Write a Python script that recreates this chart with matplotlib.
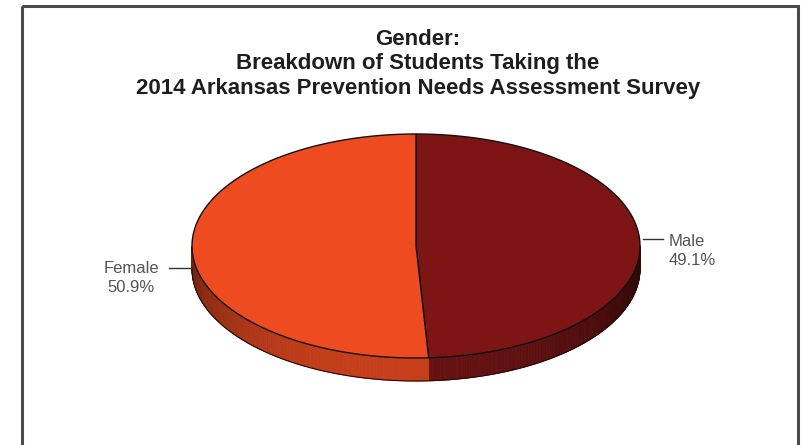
import numpy as np
import matplotlib
matplotlib.use('Agg')
import matplotlib.pyplot as plt
from matplotlib.patches import Polygon, Rectangle

# datos del grafico
categorias = ['Male', 'Female']
porcentajes = [49.1, 50.9]
colores = ['#7d1515', '#ef4b20']

titulo = ('Gender:\nBreakdown of Students Taking the\n'
          '2014 Arkansas Prevention Needs Assessment Survey')

# geometria del pastel en pixeles
cx, cy = 416, 246
ra, rb = 224, 112
prof = 23


def punto(t):
    return cx + ra * np.cos(t), cy - rb * np.sin(t)


def sombra(color, t):
    # mas claro hacia abajo-izquierda, oscuro a los lados
    f = 0.38 + 0.45 * max(0.0, np.cos(t - np.radians(262)))
    rgb = np.array(matplotlib.colors.to_rgb(color))
    return tuple(np.clip(rgb * f, 0, 1))


fig = plt.figure(figsize=(8.02, 4.45), dpi=100)
ax = fig.add_axes([0, 0, 1, 1])
ax.set_xlim(0, 802)
ax.set_ylim(445, 0)
ax.axis('off')

# marco
ax.add_patch(Rectangle((22, 6), 776, 460, fill=False, edgecolor='#4a4a4a',
                       linewidth=2.2, zorder=10))

ax.text(418, 64, titulo, ha='center', va='center', fontsize=16,
        fontweight='bold', family='Liberation Sans', color='#1e1e1e',
        linespacing=1.24)

fracs = np.array(porcentajes) / sum(porcentajes)
inicio = np.pi / 2
angulos = []
for i, fr in enumerate(fracs):
    fin = inicio - fr * 2 * np.pi
    angulos.append((inicio, fin))
    ts = np.linspace(inicio, fin, 400)
    # pared lateral
    for t1, t2 in zip(ts[:-1], ts[1:]):
        tm = (t1 + t2) / 2
        if np.sin(tm) >= 0:
            continue
        x1, y1 = punto(t1)
        x2, y2 = punto(t2)
        ax.add_patch(Polygon([(x1, y1), (x2, y2), (x2, y2 + prof), (x1, y1 + prof)],
                             closed=True, facecolor=sombra(colores[i], tm),
                             edgecolor=sombra(colores[i], tm), linewidth=0.6, zorder=2))
    # cara superior
    xs, ys = punto(ts)
    verts = [(cx, cy)] + list(zip(xs, ys))
    ax.add_patch(Polygon(verts, closed=True, facecolor=colores[i],
                         edgecolor='#111111', linewidth=1.0, zorder=3))
    inicio = fin

# borde inferior de la pared
tb = np.linspace(np.pi, 2 * np.pi, 300)
xb, yb = punto(tb)
ax.plot(xb, yb + prof, color='#2a0a05', linewidth=0.8, zorder=4)

# etiquetas con linea guia
for i, (a0, a1) in enumerate(angulos):
    tm = (a0 + a1) / 2
    xm, ym = punto(tm)
    txt = '%s\n%.1f%%' % (categorias[i], porcentajes[i])
    if np.cos(tm) >= 0:
        yl = ym - 4
        ax.plot([xm + 3, xm + 23], [yl, yl], color='#333333', linewidth=1.0, zorder=5)
        ax.text(xm + 29, yl + 12, txt, ha='left', va='center', fontsize=12,
                family='Liberation Sans', color='#555555', linespacing=1.3)
    else:
        yl = ym + 19
        ax.plot([xm - 2, xm - 23], [yl, yl], color='#333333', linewidth=1.0, zorder=5)
        ax.text(xm - 33, yl + 10, txt, ha='right', va='center', fontsize=12,
                family='Liberation Sans', color='#555555', linespacing=1.3,
                multialignment='center')

fig.savefig('out.png', dpi=100)
